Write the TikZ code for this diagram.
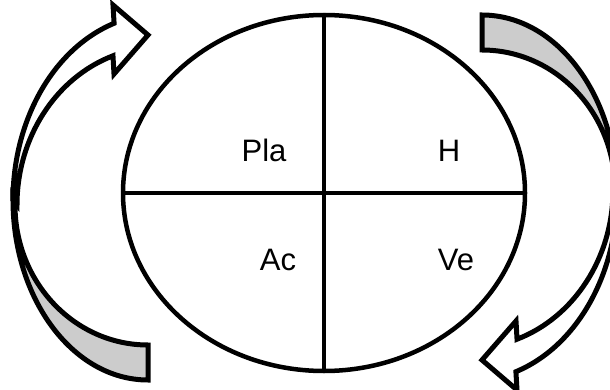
\documentclass[tikz,border=0pt]{standalone}
\usepackage{fontspec}
\setmainfont{Liberation Sans}
\usetikzlibrary{shapes.geometric}
\begin{document}
\begin{tikzpicture}[x=1pt,y=1pt,
		quad/.style={anchor=base,font=\fontsize{31}{36}\selectfont},
		band/.style={draw,line width=5pt},
		back/.style={band,fill=gray!40}]
			\useasboundingbox (0,0) rectangle (610,389);
			\clip (0,0) rectangle (610,389);

			\node(cyc) [ellipse,draw,line width=4.5pt,minimum width=402pt,minimum height=356pt,inner sep=0pt] at (324,196) {};
			\node(pla) [quad] at (264,228) {Pla};
			\node(h) [quad] at (449,228) {H};
			\node(ac) [quad] at (278,119) {Ac};
			\node(ve) [quad] at (456,119) {Ve};

			\draw[line width=4.5pt] (cyc.north) -- (cyc.south);
			\draw[line width=4.5pt] (cyc.west) -- (cyc.east);

			% the two turning arrows
			\foreach \r in {0,180} {
				\begin{scope}[rotate around={\r:(315,191.5)}]
					\draw[back] (13,189) arc[start angle=180,end angle=270,x radius=135,y radius=180]
						-- (148,44) arc[start angle=270,end angle=180,x radius=133,y radius=140] -- cycle;
					\draw[band,fill=white] (13,189) arc[start angle=180,end angle=108.2,x radius=147,y radius=186]
						-- (113,384) -- (148,354) -- (114,315)
						-- ([shift={(160,184)}]109.2:143 and 158) arc[start angle=109.2,end angle=180,x radius=143,y radius=158] -- cycle;
				\end{scope}
			}
		\end{tikzpicture}
\end{document}
